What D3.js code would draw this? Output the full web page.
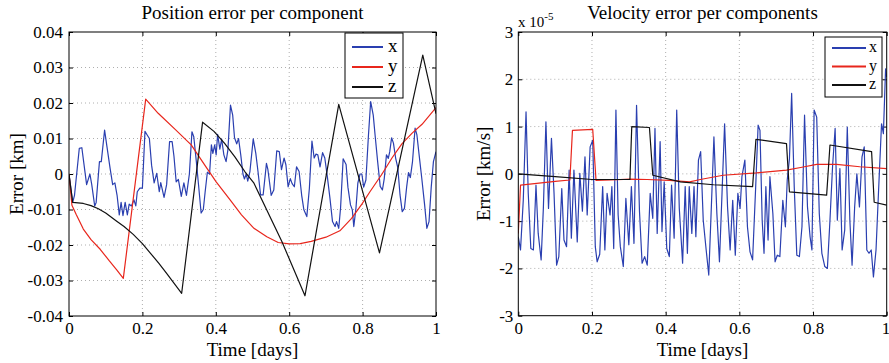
<!DOCTYPE html>
<html>
<head>
<meta charset="utf-8">
<script src="https://cdn.jsdelivr.net/npm/d3@7"></script>
<style>
  body { margin: 0; background: #fff; }
  svg { display: block; font-family: "Liberation Serif", "Times New Roman", serif; }
</style>
</head>
<body>
<div id="chart"></div>
<script>
// ---- data: [time in days, error] ----
// position error per component (km)
const posX = [[0,0],[0.01,-0.008],[0.015,-0.006],[0.028,0.0072],[0.035,0.0074],[0.048,-0.003],[0.057,0],[0.062,-0.003],[0.07,-0.009],[0.074,-0.008],[0.083,0.0035],[0.088,0.0035],[0.097,0.0124],[0.103,0.008],[0.112,0.0016],[0.119,-0.003],[0.125,-0.0025],[0.131,-0.006],[0.137,-0.0115],[0.142,-0.008],[0.147,-0.0117],[0.153,-0.008],[0.159,-0.0115],[0.164,-0.0085],[0.17,-0.009],[0.177,-0.0073],[0.182,-0.009],[0.186,-0.005],[0.193,-0.004],[0.2,-0.004],[0.207,0.012],[0.213,0.011],[0.219,0.010],[0.225,0.0025],[0.232,-0.0025],[0.239,0.0002],[0.246,-0.005],[0.25,-0.0024],[0.259,-0.0066],[0.266,-0.003],[0.274,0.0091],[0.281,0.0091],[0.286,0.005],[0.292,-0.0022],[0.298,-0.0015],[0.306,-0.0063],[0.313,-0.0025],[0.320,-0.006],[0.328,0],[0.335,0.0119],[0.340,0.0105],[0.347,0.0035],[0.353,-0.0031],[0.360,-0.011],[0.366,-0.010],[0.371,-0.005],[0.377,0.0005],[0.383,0],[0.388,0.0082],[0.392,0.0058],[0.397,0.0082],[0.401,0.0054],[0.405,0.0112],[0.411,0.007],[0.416,0.0098],[0.422,0.0054],[0.428,0.0035],[0.433,0.0068],[0.440,0.0194],[0.446,0.0166],[0.451,0.0102],[0.457,0.0085],[0.462,0.010],[0.468,0.0054],[0.474,0],[0.478,-0.0014],[0.483,0],[0.487,-0.002],[0.493,0.0007],[0.502,0.0099],[0.509,0.0058],[0.515,0.0007],[0.522,-0.0059],[0.529,-0.0059],[0.538,0.003],[0.542,0.0012],[0.551,-0.006],[0.558,-0.0045],[0.566,0.0065],[0.573,0.0063],[0.579,0.0012],[0.586,0.0045],[0.591,0.0026],[0.597,-0.0036],[0.603,-0.0013],[0.608,-0.0027],[0.614,-0.0036],[0.620,0.002],[0.627,0.0007],[0.634,-0.006],[0.640,-0.0101],[0.648,-0.012],[0.655,-0.004],[0.662,0.0093],[0.668,0.0045],[0.673,0.0056],[0.678,0.0054],[0.684,0.002],[0.691,0.006],[0.697,0.0045],[0.704,-0.0008],[0.711,-0.0068],[0.718,-0.0134],[0.725,-0.0148],[0.729,-0.0134],[0.735,-0.0153],[0.740,-0.0095],[0.747,0.0043],[0.755,0.0027],[0.760,-0.0037],[0.767,-0.0087],[0.772,-0.0101],[0.776,-0.0148],[0.782,-0.0095],[0.787,-0.0026],[0.793,0],[0.798,0],[0.803,-0.0037],[0.809,-0.0017],[0.816,0.011],[0.822,0.0204],[0.829,0.0166],[0.834,0.011],[0.841,0.0035],[0.848,-0.0035],[0.854,-0.0045],[0.859,-0.0013],[0.865,0.0054],[0.870,0.0044],[0.874,0.0063],[0.879,0.0102],[0.884,0.0087],[0.890,0.0045],[0.896,0.0017],[0.902,-0.0059],[0.908,-0.0106],[0.914,-0.0097],[0.920,-0.0037],[0.925,0.0004],[0.930,-0.001],[0.936,0.0035],[0.943,0.0129],[0.948,0.011],[0.954,0.0054],[0.961,-0.001],[0.969,-0.0087],[0.975,-0.0153],[0.981,-0.0134],[0.987,-0.0037],[0.993,0.0035],[1.0,0.0063]];
const posY = [[0,0],[0.008,-0.0088],[0.02,-0.0115],[0.039,-0.0155],[0.06,-0.0185],[0.085,-0.0212],[0.11,-0.0245],[0.13,-0.027],[0.148,-0.0294],[0.209,0.0211],[0.243,0.0171],[0.29,0.0125],[0.333,0.0082],[0.37,0.0025],[0.401,-0.0022],[0.439,-0.0073],[0.47,-0.0115],[0.504,-0.0153],[0.539,-0.0177],[0.57,-0.0193],[0.6,-0.0197],[0.63,-0.0196],[0.66,-0.019],[0.7,-0.0178],[0.738,-0.0160],[0.77,-0.0125],[0.798,-0.0085],[0.82,-0.005],[0.853,0],[0.88,0.0045],[0.907,0.0085],[0.935,0.0115],[0.962,0.014],[1.0,0.0187]];
const posZ = [[0,0],[0.01,-0.008],[0.039,-0.0083],[0.06,-0.0089],[0.08,-0.0098],[0.1,-0.011],[0.13,-0.0133],[0.15,-0.0148],[0.175,-0.017],[0.2,-0.0196],[0.221,-0.0222],[0.245,-0.0252],[0.266,-0.028],[0.288,-0.031],[0.307,-0.0336],[0.364,0.0146],[0.395,0.012],[0.424,0.0086],[0.452,0.0048],[0.479,0.0007],[0.504,-0.0026],[0.58,-0.019],[0.643,-0.0343],[0.735,0.0196],[0.846,-0.0222],[0.964,0.0335],[1.0,0.017]];

// velocity error per component (x 1e-5 km/s)
const velX = [[0,-1.33],[0.006,-1.61],[0.0135,-0.56],[0.021,1.31],[0.027,-0.41],[0.034,-1.58],[0.041,-1.61],[0.048,-0.24],[0.054,-1.26],[0.062,-1.82],[0.068,-0.73],[0.075,1.10],[0.082,-0.73],[0.09,0.75],[0.097,-0.41],[0.104,-1.93],[0.11,-1.75],[0.118,-0.31],[0.124,-1.4],[0.131,-1.54],[0.138,0.08],[0.144,-1.36],[0.151,0.08],[0.16,-1.44],[0.167,0.01],[0.174,-0.79],[0.181,0.36],[0.187,-0.87],[0.195,0.57],[0.202,0.71],[0.209,-1.54],[0.214,-1.86],[0.221,-1.7],[0.229,-0.27],[0.235,-1.61],[0.241,-0.41],[0.249,-0.87],[0.254,-0.27],[0.259,-1.58],[0.265,1.35],[0.271,-0.87],[0.277,-1.54],[0.285,-1.96],[0.292,-0.52],[0.3,-1.5],[0.307,-0.27],[0.314,-1.47],[0.321,1.45],[0.329,-0.8],[0.336,-1.89],[0.343,-1.75],[0.35,-1.93],[0.358,-0.41],[0.365,-0.94],[0.371,0.96],[0.377,-1.26],[0.385,0.68],[0.39,-1.22],[0.396,-0.17],[0.403,-1.58],[0.41,-1.75],[0.416,-0.24],[0.423,-1.36],[0.43,1.35],[0.437,-0.73],[0.446,-1.89],[0.453,-0.27],[0.459,-1.68],[0.464,-0.27],[0.471,-1.26],[0.477,-0.27],[0.482,-1.33],[0.489,0.29],[0.495,0.47],[0.502,-0.98],[0.51,-1.61],[0.517,-2.14],[0.524,-0.7],[0.531,0.78],[0.539,-0.84],[0.546,-1.86],[0.553,-0.41],[0.56,1.06],[0.568,-0.7],[0.575,-1.61],[0.582,-0.56],[0.589,-1.72],[0.596,-0.41],[0.602,-0.73],[0.607,-0.06],[0.615,0.29],[0.622,-1.12],[0.629,-1.65],[0.636,-1.82],[0.644,-0.34],[0.651,1.03],[0.656,0.92],[0.662,-0.98],[0.667,-1.68],[0.672,-0.27],[0.678,-1.4],[0.683,-0.06],[0.691,-0.84],[0.697,-1.86],[0.703,-1.72],[0.71,-1.75],[0.718,-0.56],[0.725,-1.12],[0.73,-0.13],[0.736,0.32],[0.742,1.70],[0.749,-0.27],[0.756,-1.72],[0.763,-1.75],[0.77,-1.12],[0.777,1.24],[0.785,-0.7],[0.792,-1.33],[0.797,-1.61],[0.803,1.35],[0.81,1.2],[0.817,-0.84],[0.824,-1.68],[0.832,-1.96],[0.839,-2.0],[0.846,-0.98],[0.853,0.15],[0.86,0.96],[0.866,-0.98],[0.873,0.11],[0.879,-1.61],[0.886,-1.19],[0.893,0.99],[0.9,-0.98],[0.906,-1.93],[0.913,-0.7],[0.919,0],[0.926,-0.7],[0.933,0.36],[0.939,0.57],[0.946,-1.61],[0.952,-1.68],[0.958,-1.61],[0.964,-2.18],[0.971,-1.61],[0.978,-0.34],[0.986,1.06],[0.991,0.85],[0.997,2.22],[1.0,2.05]];
const velY = [[0,-1.26],[0.006,-0.24],[0.05,-0.2],[0.1,-0.16],[0.14,-0.13],[0.147,0.92],[0.202,0.94],[0.211,-0.14],[0.25,-0.13],[0.303,-0.11],[0.35,-0.12],[0.41,-0.14],[0.465,-0.17],[0.494,-0.12],[0.556,-0.03],[0.647,0.02],[0.728,0.08],[0.77,0.14],[0.81,0.2],[0.864,0.2],[0.927,0.15],[1.0,0.11]];
const velZ = [[0,0],[0.1,-0.06],[0.2,-0.12],[0.303,-0.12],[0.308,1.0],[0.356,0.98],[0.365,-0.03],[0.44,-0.17],[0.53,-0.23],[0.636,-0.27],[0.645,0.73],[0.728,0.64],[0.736,-0.38],[0.837,-0.45],[0.846,0.61],[0.959,0.47],[0.966,-0.6],[1.0,-0.66]];

const xTicks = [0, 0.2, 0.4, 0.6, 0.8, 1];
const posTicks = [-0.04, -0.03, -0.02, -0.01, 0, 0.01, 0.02, 0.03, 0.04];
const velTicks = [-3, -2, -1, 0, 1, 2, 3];
const legendNames = ["x", "y", "z"];
const colors = ["#2a3fb0", "#e8261c", "#111111"];

const W = 889, H = 363;
const svg = d3.select("#chart").append("svg")
  .attr("width", W).attr("height", H);
svg.append("rect").attr("width", W).attr("height", H).attr("fill", "#fff");

function drawPanel(opt) {
  const x = d3.scaleLinear().domain([0, 1]).range([opt.left, opt.right]);
  const y = d3.scaleLinear().domain(opt.yDomain).range([opt.bottom, opt.top]);
  const g = svg.append("g");

  // grid (dotted)
  g.selectAll(".gx").data(xTicks.slice(1, -1)).enter().append("line")
    .attr("x1", d => x(d)).attr("x2", d => x(d))
    .attr("y1", opt.top).attr("y2", opt.bottom)
    .attr("stroke", "#999").attr("stroke-width", 0.8).attr("stroke-dasharray", "1,3");
  g.selectAll(".gy").data(opt.yTicks.slice(1, -1)).enter().append("line")
    .attr("x1", opt.left).attr("x2", opt.right)
    .attr("y1", d => y(d)).attr("y2", d => y(d))
    .attr("stroke", "#999").attr("stroke-width", 0.8).attr("stroke-dasharray", "1,3");

  // axes with inward ticks
  const fmtX = d => (d === 0 || d === 1) ? String(d) : d.toFixed(1);
  const bottomAxis = g.append("g").attr("transform", `translate(0,${opt.bottom})`)
      .call(d3.axisBottom(x).tickValues(xTicks).tickFormat(fmtX).tickSize(-4).tickPadding(6));
  const ax = [
    bottomAxis,
    g.append("g").attr("transform", `translate(0,${opt.top})`)
      .call(d3.axisTop(x).tickValues(xTicks).tickFormat("").tickSize(-4)),
    g.append("g").attr("transform", `translate(${opt.left},0)`)
      .call(d3.axisLeft(y).tickValues(opt.yTicks).tickFormat(opt.fmtY).tickSize(-4).tickPadding(opt.yPad)),
    g.append("g").attr("transform", `translate(${opt.right},0)`)
      .call(d3.axisRight(y).tickValues(opt.yTicks).tickFormat("").tickSize(-4))
  ];
  ax.forEach(a => {
    a.select(".domain").remove();
    a.selectAll("line").attr("stroke", "#000");
    a.selectAll("text").attr("font-size", 17).attr("fill", "#000")
      .attr("font-family", "Liberation Serif, Times New Roman, serif");
  });
  if (opt.clampLast) {
    // last label sits on the window edge: keep it inside
    bottomAxis.selectAll(".tick text").filter(d => d === 1)
      .attr("text-anchor", "end").attr("dx", 3);
  }

  // series
  const line = d3.line().x(d => x(d[0])).y(d => y(d[1]));
  const clip = "clip" + opt.id;
  svg.append("clipPath").attr("id", clip).append("rect")
    .attr("x", opt.left).attr("y", opt.top)
    .attr("width", opt.right - opt.left).attr("height", opt.bottom - opt.top);
  const lines = g.append("g").attr("clip-path", `url(#${clip})`);
  opt.series.forEach((s, i) => {
    lines.append("path").datum(s)
      .attr("d", line).attr("fill", "none")
      .attr("stroke", colors[i]).attr("stroke-width", 1.2)
      .attr("stroke-linejoin", "round");
  });

  // box
  g.append("rect").attr("x", opt.left).attr("y", opt.top)
    .attr("width", opt.right - opt.left).attr("height", opt.bottom - opt.top)
    .attr("fill", "none").attr("stroke", "#000").attr("stroke-width", 1);

  // title and labels
  g.append("text").attr("x", (opt.left + opt.right) / 2).attr("y", 19)
    .attr("text-anchor", "middle").attr("font-size", 19).text(opt.title);
  g.append("text").attr("x", (opt.left + opt.right) / 2).attr("y", 356)
    .attr("text-anchor", "middle").attr("font-size", 19).text("Time [days]");
  g.append("text")
    .attr("transform", `translate(${opt.yLabelX},${(opt.top + opt.bottom) / 2}) rotate(-90)`)
    .attr("text-anchor", "middle").attr("font-size", 19).text(opt.yLabel);

  // legend
  const lg = opt.legend;
  g.append("rect").attr("x", lg.x).attr("y", lg.y).attr("width", lg.w).attr("height", lg.h)
    .attr("fill", "#fff").attr("stroke", "#000").attr("stroke-width", 1);
  legendNames.forEach((name, i) => {
    const yy = lg.y + lg.first + i * lg.step;
    g.append("line").attr("x1", lg.x + 7).attr("x2", lg.x + 7 + lg.len)
      .attr("y1", yy).attr("y2", yy)
      .attr("stroke", colors[i]).attr("stroke-width", 2);
    g.append("text").attr("x", lg.x + lg.textOff + lg.len).attr("y", yy + lg.fs * 0.28)
      .attr("font-size", lg.fs).text(name);
  });
  return { x, y, g };
}

drawPanel({
  id: "pos", left: 69, right: 436, top: 32, bottom: 316,
  yDomain: [-0.04, 0.04], yTicks: posTicks, yPad: 6,
  fmtY: d => d === 0 ? "0" : d.toFixed(2),
  series: [posX, posY, posZ],
  title: "Position error per component", yLabel: "Error [km]", yLabelX: 23,
  legend: { x: 345, y: 33, w: 58, h: 65, first: 14, step: 20, len: 31, textOff: 12, fs: 19 }
});

const right = drawPanel({
  id: "vel", left: 518.3, right: 886.7, top: 32, bottom: 315.7,
  yDomain: [-3, 3], yTicks: velTicks, yPad: 5, clampLast: true,
  fmtY: d => String(d),
  series: [velX, velY, velZ],
  title: "Velocity error per components", yLabel: "Error [km/s]", yLabelX: 490,
  legend: { x: 825, y: 37, w: 57, h: 60, first: 11, step: 18.5, len: 34, textOff: 10, fs: 16 }
});

// exponent label
const ex = right.g.append("text").attr("x", 518).attr("y", 27).attr("font-size", 15);
ex.append("tspan").text("x 10");
ex.append("tspan").attr("dy", -7).attr("font-size", 11).text("-5");
</script>
</body>
</html>
